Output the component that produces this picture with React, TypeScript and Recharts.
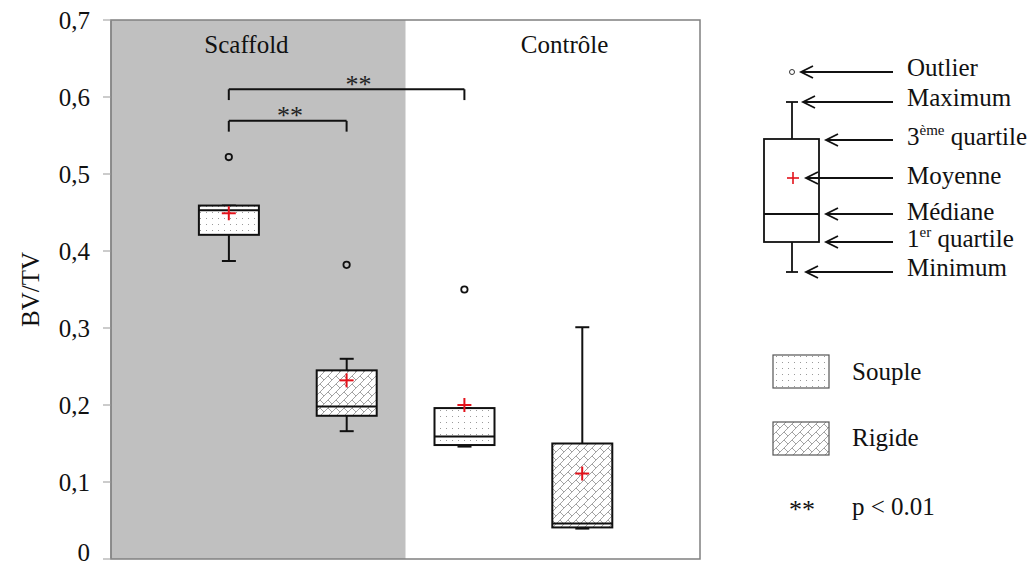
import {
  ComposedChart,
  Bar,
  Scatter,
  XAxis,
  YAxis,
  ReferenceArea,
  ReferenceLine,
  ReferenceDot,
} from "recharts";

document.body.style.margin = "0";

const FONT = "'Liberation Serif', 'Times New Roman', Times, serif";
const FS = 25;

// box positions on the x scale (0..5), gray zone = Scaffold
const boxX = [1, 2, 3, 4];
const materials = ["Souple", "Rigide", "Souple", "Rigide"];
const minimums = [0.387, 0.166, 0.146, 0.0395];
const q1s = [0.421, 0.186, 0.148, 0.041];
const medians = [0.453, 0.198, 0.159, 0.046];
const q3s = [0.459, 0.245, 0.196, 0.15];
const maximums = [0.459, 0.26, 0.196, 0.301];
const means = [0.449, 0.232, 0.2, 0.111];

const outlierX = [1, 2, 3];
const outlierValues = [0.522, 0.382, 0.35];

const groups = ["Scaffold", "Contrôle"];
const groupLabelX = [1.15, 3.85];
const yTicks = [0, 0.1, 0.2, 0.3, 0.4, 0.5, 0.6, 0.7];

// significance brackets
const bracketFrom = [1, 1];
const bracketTo = [2, 3];
const bracketLevels = [0.569, 0.61];
const starX = [1.52, 2.1];
const starY = [0.578, 0.618];

const rows = boxX.map((x, i) => ({
  x,
  material: materials[i],
  min: minimums[i],
  q1: q1s[i],
  median: medians[i],
  q3: q3s[i],
  max: maximums[i],
  mean: means[i],
}));

const outliers = outlierX.map((x, i) => ({ x, value: outlierValues[i] }));

// bar goes 0 -> max, so the other stats are placed on the same linear scale
const BoxShape = (props: any) => {
  const { x, y, width, height, payload } = props;
  const base = y + height;
  const py = (v: number) => base - (v / payload.max) * height;
  const cx = x + width / 2;
  const yMin = py(payload.min);
  const yQ1 = py(payload.q1);
  const yMed = py(payload.median);
  const yQ3 = py(payload.q3);
  const yMax = py(payload.max);
  const fill = payload.material === "Rigide" ? "url(#rigide)" : "url(#souple)";
  return (
    <g>
      <line x1={cx} x2={cx} y1={yQ1} y2={yMin} stroke="#111" strokeWidth={2} />
      <line x1={cx} x2={cx} y1={yQ3} y2={yMax} stroke="#111" strokeWidth={2} />
      <line x1={cx - 7} x2={cx + 7} y1={yMin} y2={yMin} stroke="#111" strokeWidth={2} />
      <line x1={cx - 7} x2={cx + 7} y1={yMax} y2={yMax} stroke="#111" strokeWidth={2} />
      <rect x={x} y={yQ3} width={width} height={yQ1 - yQ3} fill={fill} stroke="#111" strokeWidth={2} />
      <line x1={x} x2={x + width} y1={yMed} y2={yMed} stroke="#111" strokeWidth={2} />
    </g>
  );
};

const MeanCross = (props: any) => {
  const { cx, cy } = props;
  return (
    <g>
      <line x1={cx - 7} x2={cx + 7} y1={cy} y2={cy} stroke="#e3121b" strokeWidth={2} />
      <line x1={cx} x2={cx} y1={cy - 7} y2={cy + 7} stroke="#e3121b" strokeWidth={2} />
    </g>
  );
};

const OutlierDot = (props: any) => (
  <circle cx={props.cx} cy={props.cy} r={3.2} fill="none" stroke="#111" strokeWidth={1.8} />
);

// tick text, kept inside the picture at the bottom
const YTick = (props: any) => {
  const { x, y, payload } = props;
  return (
    <text
      x={x}
      y={Math.min(y, 552)}
      dy="0.355em"
      textAnchor="end"
      fontSize={FS}
      fill="#111"
      style={{ fontFamily: FONT }}
    >
      {String(payload.value).replace(".", ",")}
    </text>
  );
};

const Arrow = ({ y, head }: { y: number; head: number }) => (
  <g stroke="#111" strokeWidth={1.8} fill="none">
    <line x1={head} x2={893} y1={y} y2={y} />
    <polyline points={`${head + 12},${y - 6} ${head},${y} ${head + 12},${y + 6}`} />
  </g>
);

function Legend() {
  const txt = { fontSize: FS, fill: "#111", style: { fontFamily: FONT } };
  return (
    <svg
      width={1035}
      height={568}
      style={{ position: "absolute", left: 0, top: 0, pointerEvents: "none" }}
    >
      <defs>
        <pattern id="souple" width={6} height={6} patternUnits="userSpaceOnUse">
          <rect width={6} height={6} fill="#fff" />
          <rect x={2} y={2} width={1} height={1} fill="#9a9a9a" />
        </pattern>
        <pattern id="rigide" width={8} height={8} patternUnits="userSpaceOnUse">
          <rect width={8} height={8} fill="#fff" />
          <path d="M0,8 L8,0 M-1,1 L1,-1 M7,9 L9,7" stroke="#999" strokeWidth={0.9} />
          <path d="M0,0 L4,4" stroke="#999" strokeWidth={0.9} />
        </pattern>
      </defs>

      {/* box plot key */}
      <circle cx={792} cy={72} r={2.5} fill="none" stroke="#333" strokeWidth={1} />
      <line x1={792} x2={792} y1={102} y2={139} stroke="#111" strokeWidth={1.8} />
      <line x1={786} x2={798} y1={102} y2={102} stroke="#111" strokeWidth={1.8} />
      <rect x={764} y={139} width={55} height={103} fill="#fff" stroke="#111" strokeWidth={1.8} />
      <line x1={764} x2={819} y1={214} y2={214} stroke="#111" strokeWidth={1.8} />
      <line x1={792} x2={792} y1={242} y2={272} stroke="#111" strokeWidth={1.8} />
      <line x1={786} x2={798} y1={272} y2={272} stroke="#111" strokeWidth={1.8} />
      <line x1={787} x2={799} y1={178} y2={178} stroke="#e3121b" strokeWidth={1.6} />
      <line x1={793} x2={793} y1={172} y2={184} stroke="#e3121b" strokeWidth={1.6} />

      <Arrow y={72} head={801} />
      <Arrow y={102} head={803} />
      <Arrow y={140} head={826} />
      <Arrow y={178} head={806} />
      <Arrow y={214} head={826} />
      <Arrow y={242} head={826} />
      <Arrow y={272} head={806} />

      <text x={907} y={76} {...txt}>Outlier</text>
      <text x={907} y={106} {...txt}>Maximum</text>
      <text x={907} y={145} {...txt}>
        3<tspan fontSize={15} dy={-10}>ème</tspan>
        <tspan dy={10}> quartile</tspan>
      </text>
      <text x={907} y={184} {...txt}>Moyenne</text>
      <text x={907} y={220} {...txt}>Médiane</text>
      <text x={907} y={247} {...txt}>
        1<tspan fontSize={15} dy={-10}>er</tspan>
        <tspan dy={10}> quartile</tspan>
      </text>
      <text x={907} y={276} {...txt}>Minimum</text>

      {/* materials key */}
      <rect x={773} y={355} width={56} height={33} fill="url(#souple)" stroke="#555" strokeWidth={1.2} />
      <text x={852} y={380} {...txt}>Souple</text>
      <rect x={773} y={422} width={56} height={33} fill="url(#rigide)" stroke="#555" strokeWidth={1.2} />
      <text x={852} y={446} {...txt}>Rigide</text>
      <text x={789} y={518} {...txt} fontSize={26}>**</text>
      <text x={852} y={515} {...txt}>p &lt; 0.01</text>
    </svg>
  );
}

export default function App() {
  return (
    <div style={{ position: "relative", width: 1035, height: 568, background: "#fff", fontFamily: FONT }}>
      <ComposedChart
        width={1035}
        height={568}
        data={rows}
        margin={{ top: 20, right: 335, bottom: 9, left: 0 }}
        style={{ fontFamily: FONT }}
      >
        <ReferenceArea x1={0} x2={2.5} y1={0} y2={0.7} fill="#c0c0c0" fillOpacity={1} stroke="none" />
        <XAxis
          type="number"
          dataKey="x"
          domain={[0, 5]}
          tick={false}
          tickLine={false}
          axisLine={{ stroke: "#888", strokeWidth: 1.5 }}
          height={0}
        />
        <YAxis
          type="number"
          domain={[0, 0.7]}
          ticks={yTicks}
          interval={0}
          width={111}
          tickSize={8}
          tickMargin={13}
          tick={YTick}
          tickLine={{ stroke: "#999" }}
          axisLine={{ stroke: "#888", strokeWidth: 1.5 }}
          label={{
            content: (p: any) => {
              const vb = p.viewBox || { y: 20, height: 539 };
              const cy = vb.y + vb.height / 2;
              return (
                <text
                  x={30}
                  y={cy}
                  transform={`rotate(-90, 30, ${cy})`}
                  textAnchor="middle"
                  dy="0.35em"
                  fontSize={FS}
                  fill="#111"
                  style={{ fontFamily: FONT }}
                >
                  BV/TV
                </text>
              );
            },
          }}
        />

        {groups.map((g, i) => (
          <ReferenceDot
            key={g}
            x={groupLabelX[i]}
            y={0.668}
            r={0}
            shape={(p: any) => (
              <text
                x={p.cx}
                y={p.cy}
                dy="0.35em"
                textAnchor="middle"
                fontSize={FS}
                fill="#111"
                style={{ fontFamily: FONT }}
              >
                {g}
              </text>
            )}
          />
        ))}

        <Bar dataKey="max" barSize={60} shape={BoxShape} isAnimationActive={false} />
        <Scatter data={outliers} dataKey="value" shape={OutlierDot} isAnimationActive={false} />
        <Scatter data={rows} dataKey="mean" shape={MeanCross} isAnimationActive={false} />

        {bracketLevels.map((lv, i) => (
          <ReferenceLine
            key={`b-${i}`}
            segment={[
              { x: bracketFrom[i], y: lv },
              { x: bracketTo[i], y: lv },
            ]}
            stroke="#111"
            strokeWidth={2}
          />
        ))}
        {bracketLevels.map((lv, i) =>
          [bracketFrom[i], bracketTo[i]].map((bx) => (
            <ReferenceLine
              key={`t-${i}-${bx}`}
              segment={[
                { x: bx, y: lv },
                { x: bx, y: lv - 0.014 },
              ]}
              stroke="#111"
              strokeWidth={2}
            />
          ))
        )}
        {starX.map((sx, i) => (
          <ReferenceDot
            key={`s-${i}`}
            x={sx}
            y={starY[i]}
            r={0}
            shape={(p: any) => (
              <text
                x={p.cx}
                y={p.cy + 10}
                textAnchor="middle"
                fontSize={26}
                fill="#222"
                style={{ fontFamily: FONT }}
              >
                **
              </text>
            )}
          />
        ))}

        <ReferenceArea x1={0} x2={5} y1={0} y2={0.7} fill="none" stroke="#808080" strokeWidth={1.5} />
      </ComposedChart>
      <Legend />
    </div>
  );
}
